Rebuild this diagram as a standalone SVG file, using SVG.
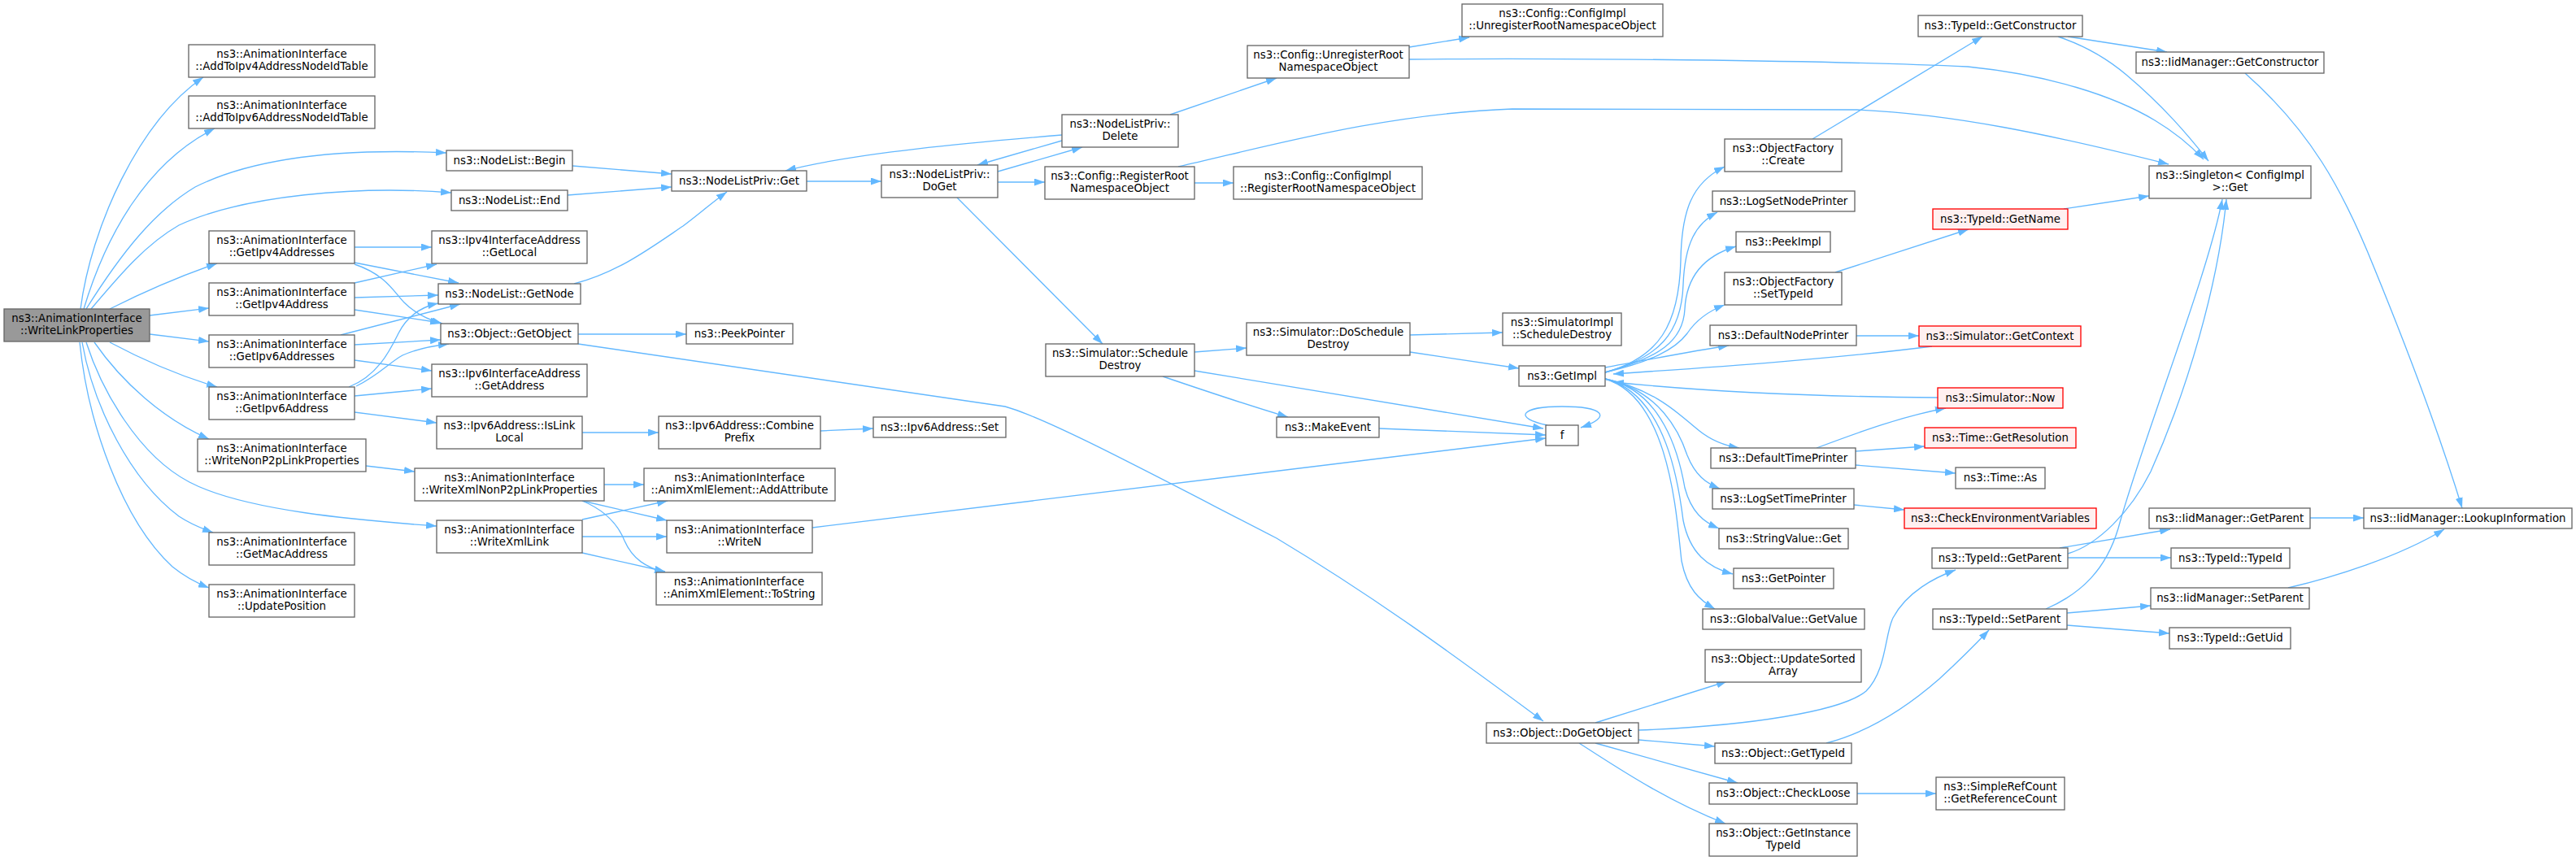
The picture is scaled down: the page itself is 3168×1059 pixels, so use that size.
<svg xmlns="http://www.w3.org/2000/svg" width="3168" height="1059" viewBox="0 0 3168 1059">
<style>
.node rect{fill:#ffffff;stroke:#666666;stroke-width:1.33}
.root rect{fill:#999999}
.red rect{fill:#fff0f0;stroke:#ff0000}
text{font-family:"DejaVu Sans","Liberation Sans",sans-serif;font-size:13.33px;text-anchor:middle;fill:#000000}
#edges path{fill:none;stroke:#63b8ff;stroke-width:1.33;marker-end:url(#a)}
</style>
<defs>
<marker id="a" viewBox="0 0 13 9" refX="13" refY="4.5" markerWidth="13" markerHeight="9" markerUnits="userSpaceOnUse" orient="auto"><path d="M0,0 L13,4.5 L0,9 z" fill="#63b8ff"/></marker>
</defs>
<rect width="3168" height="1059" fill="#ffffff"/>
<g id="edges">
<path d="M99,380 C112,280 170,150 250,95"/>
<path d="M103,380 C130,290 180,200 264,158"/>
<path d="M106,380 C150,310 190,260 240,230 C320,190 440,183 549,188"/>
<path d="M112,380 C150,335 180,300 220,277 C300,240 440,228 555,237"/>
<path d="M135,380 C175,360 220,340 267,324"/>
<path d="M184,388 L257,379"/>
<path d="M184,411 L257,420"/>
<path d="M135,421 C180,445 220,462 267,476"/>
<path d="M116,421 C150,470 200,515 257,540"/>
<path d="M106,421 C125,480 170,560 233,593 C300,628 440,640 537,647"/>
<path d="M101,421 C115,500 160,590 220,635 C235,645 248,650 262,655"/>
<path d="M98,421 C108,520 150,640 212,697 C228,710 242,717 257,723"/>
<path d="M436,304 L531,304"/>
<path d="M436,323 L564,348"/>
<path d="M436,325 C475,338 485,360 497,372 C510,385 525,393 544,398"/>
<path d="M436,348 L537,325"/>
<path d="M436,366 L539,363"/>
<path d="M436,381 L542,397"/>
<path d="M419,412 L566,374"/>
<path d="M436,424 L542,418"/>
<path d="M436,443 L531,456"/>
<path d="M429,476 C465,462 480,430 490,410 C500,390 515,378 539,373"/>
<path d="M438,475 C465,462 480,445 495,437 C515,428 535,425 552,423"/>
<path d="M436,487 L531,478"/>
<path d="M436,507 L537,520"/>
<path d="M450,573 L510,580"/>
<path d="M711,411 L844,411"/>
<path d="M711,423 L1236,500 C1290,515 1420,585 1570,662 C1700,740 1800,815 1898,887"/>
<path d="M704,204 L826,214"/>
<path d="M698,240 L826,230"/>
<path d="M706,349 C760,335 800,305 840,278 C860,263 877,248 894,236"/>
<path d="M992,223 L1084,223"/>
<path d="M1306,166 C1200,175 1050,188 966,210"/>
<path d="M1227,211 L1331,181"/>
<path d="M1306,173 L1202,203"/>
<path d="M1227,224 L1285,224"/>
<path d="M1177,243 L1356,423"/>
<path d="M1439,141 L1570,96"/>
<path d="M1469,225 L1517,225"/>
<path d="M1449,205 C1560,180 1700,140 1860,134 L2283,135 C2400,140 2520,165 2667,202"/>
<path d="M1733,58 L1807,46"/>
<path d="M1733,73 C1900,71 2250,74 2420,82 C2520,92 2600,118 2650,148 C2680,166 2697,182 2710,196"/>
<path d="M1469,433 L1533,428"/>
<path d="M1469,456 L1898,527"/>
<path d="M1430,463 C1480,480 1540,500 1584,513"/>
<path d="M1734,412 L1848,409"/>
<path d="M1734,433 L1868,453"/>
<path d="M1696,527 L1901,535"/>
<path d="M999,649 L1901,539"/>
<path d="M1903,523 C1860,514 1870,500 1921,500 C1970,500 1985,512 1944,526"/>
<path d="M1974,458 C2040,440 2065,400 2067,320 C2068,260 2080,225 2121,205"/>
<path d="M1974,458 C2040,440 2068,410 2070,350 C2072,300 2085,275 2112,261"/>
<path d="M1974,458 C2040,440 2070,420 2072,380 C2074,340 2095,315 2135,303"/>
<path d="M1974,458 C2030,445 2060,430 2075,410 C2085,395 2100,383 2121,375"/>
<path d="M1974,452 C2030,442 2080,432 2126,425"/>
<path d="M1974,466 C2040,480 2070,515 2090,530 C2105,542 2120,548 2139,551"/>
<path d="M1974,466 C2040,480 2065,530 2075,560 C2085,585 2098,594 2115,601"/>
<path d="M1974,466 C2045,480 2065,560 2072,600 C2080,630 2095,642 2114,650"/>
<path d="M1974,466 C2050,485 2065,600 2070,640 C2078,680 2100,698 2131,706"/>
<path d="M1974,466 C2055,490 2062,640 2068,690 C2075,725 2090,738 2109,749"/>
<path d="M2376,426 C2250,442 2100,452 1984,460"/>
<path d="M2383,489 C2250,488 2100,482 1984,470"/>
<path d="M2283,413 L2360,413"/>
<path d="M2234,551 C2290,530 2340,512 2393,502"/>
<path d="M2282,555 L2367,549"/>
<path d="M2282,572 L2405,582"/>
<path d="M2280,621 L2342,627"/>
<path d="M2229,171 L2438,45"/>
<path d="M2257,335 L2421,282"/>
<path d="M2538,257 L2643,241"/>
<path d="M2543,45 L2665,64"/>
<path d="M2531,45 C2570,58 2595,75 2615,92 C2660,130 2690,165 2716,198"/>
<path d="M2761,90 C2840,160 2880,230 2920,330 C2965,440 3005,550 3028,625"/>
<path d="M2841,637 L2907,637"/>
<path d="M2814,723 C2870,710 2950,685 3006,651"/>
<path d="M2533,674 L2669,651"/>
<path d="M2543,686 L2670,686"/>
<path d="M2543,681 C2580,670 2620,630 2645,580 C2690,480 2728,350 2738,245"/>
<path d="M2516,749 C2560,730 2590,700 2605,650 C2635,540 2715,340 2733,245"/>
<path d="M2542,754 L2645,745"/>
<path d="M2542,769 L2668,779"/>
<path d="M1962,889 L2124,838"/>
<path d="M2015,898 C2150,893 2265,875 2295,850 C2320,825 2318,780 2328,760 C2345,728 2380,710 2405,701"/>
<path d="M2015,910 L2109,918"/>
<path d="M1962,914 L2137,963"/>
<path d="M1942,914 C1990,945 2050,985 2122,1013"/>
<path d="M2246,914 C2300,900 2345,870 2385,835 C2410,812 2430,792 2446,775"/>
<path d="M2284,976 L2381,976"/>
<path d="M716,532 L810,532"/>
<path d="M1009,530 L1074,527"/>
<path d="M743,596 L792,596"/>
<path d="M716,616 L820,640"/>
<path d="M716,616 C745,628 760,645 768,665 C778,688 795,698 818,704"/>
<path d="M716,639 L821,616"/>
<path d="M716,660 L820,660"/>
<path d="M716,680 L818,703"/>
</g>
<g id="n0" class="node root"><rect x="5" y="380" width="179" height="40"/><text x="94.5" y="396">ns3::AnimationInterface</text><text x="94.5" y="411">::WriteLinkProperties</text></g>
<g id="n1" class="node"><rect x="232" y="55" width="229" height="40"/><text x="346.5" y="71">ns3::AnimationInterface</text><text x="346.5" y="86">::AddToIpv4AddressNodeIdTable</text></g>
<g id="n2" class="node"><rect x="232" y="118" width="229" height="40"/><text x="346.5" y="134">ns3::AnimationInterface</text><text x="346.5" y="149">::AddToIpv6AddressNodeIdTable</text></g>
<g id="n3" class="node"><rect x="257" y="284" width="179" height="40"/><text x="346.5" y="300">ns3::AnimationInterface</text><text x="346.5" y="315">::GetIpv4Addresses</text></g>
<g id="n4" class="node"><rect x="257" y="348" width="179" height="40"/><text x="346.5" y="364">ns3::AnimationInterface</text><text x="346.5" y="379">::GetIpv4Address</text></g>
<g id="n5" class="node"><rect x="257" y="412" width="179" height="40"/><text x="346.5" y="428">ns3::AnimationInterface</text><text x="346.5" y="443">::GetIpv6Addresses</text></g>
<g id="n6" class="node"><rect x="257" y="476" width="179" height="40"/><text x="346.5" y="492">ns3::AnimationInterface</text><text x="346.5" y="507">::GetIpv6Address</text></g>
<g id="n7" class="node"><rect x="243" y="540" width="207" height="40"/><text x="346.5" y="556">ns3::AnimationInterface</text><text x="346.5" y="571">::WriteNonP2pLinkProperties</text></g>
<g id="n8" class="node"><rect x="257" y="655" width="179" height="40"/><text x="346.5" y="671">ns3::AnimationInterface</text><text x="346.5" y="686">::GetMacAddress</text></g>
<g id="n9" class="node"><rect x="257" y="719" width="179" height="40"/><text x="346.5" y="735">ns3::AnimationInterface</text><text x="346.5" y="750">::UpdatePosition</text></g>
<g id="n11" class="node"><rect x="549" y="185" width="155" height="25"/><text x="626.5" y="202">ns3::NodeList::Begin</text></g>
<g id="n12" class="node"><rect x="555" y="234" width="143" height="25"/><text x="626.5" y="251">ns3::NodeList::End</text></g>
<g id="n13" class="node"><rect x="531" y="284" width="191" height="40"/><text x="626.5" y="300">ns3::Ipv4InterfaceAddress</text><text x="626.5" y="315">::GetLocal</text></g>
<g id="n14" class="node"><rect x="539" y="349" width="175" height="25"/><text x="626.5" y="366">ns3::NodeList::GetNode</text></g>
<g id="n15" class="node"><rect x="542" y="398" width="169" height="25"/><text x="626.5" y="415">ns3::Object::GetObject</text></g>
<g id="n16" class="node"><rect x="531" y="448" width="191" height="40"/><text x="626.5" y="464">ns3::Ipv6InterfaceAddress</text><text x="626.5" y="479">::GetAddress</text></g>
<g id="n17" class="node"><rect x="537" y="512" width="179" height="40"/><text x="626.5" y="528">ns3::Ipv6Address::IsLink</text><text x="626.5" y="543">Local</text></g>
<g id="n18" class="node"><rect x="510" y="576" width="233" height="40"/><text x="626.5" y="592">ns3::AnimationInterface</text><text x="626.5" y="607">::WriteXmlNonP2pLinkProperties</text></g>
<g id="n19" class="node"><rect x="537" y="640" width="179" height="40"/><text x="626.5" y="656">ns3::AnimationInterface</text><text x="626.5" y="671">::WriteXmlLink</text></g>
<g id="n20" class="node"><rect x="826" y="210" width="166" height="25"/><text x="909" y="227">ns3::NodeListPriv::Get</text></g>
<g id="n21" class="node"><rect x="844" y="398" width="131" height="25"/><text x="909.5" y="415">ns3::PeekPointer</text></g>
<g id="n22" class="node"><rect x="810" y="512" width="199" height="40"/><text x="909.5" y="528">ns3::Ipv6Address::Combine</text><text x="909.5" y="543">Prefix</text></g>
<g id="n23" class="node"><rect x="792" y="576" width="235" height="40"/><text x="909.5" y="592">ns3::AnimationInterface</text><text x="909.5" y="607">::AnimXmlElement::AddAttribute</text></g>
<g id="n24" class="node"><rect x="820" y="640" width="179" height="40"/><text x="909.5" y="656">ns3::AnimationInterface</text><text x="909.5" y="671">::WriteN</text></g>
<g id="n25" class="node"><rect x="807" y="704" width="204" height="40"/><text x="909" y="720">ns3::AnimationInterface</text><text x="909" y="735">::AnimXmlElement::ToString</text></g>
<g id="n26" class="node"><rect x="1084" y="203" width="143" height="40"/><text x="1155.5" y="219">ns3::NodeListPriv::</text><text x="1155.5" y="234">DoGet</text></g>
<g id="n27" class="node"><rect x="1074" y="513" width="163" height="25"/><text x="1155.5" y="530">ns3::Ipv6Address::Set</text></g>
<g id="n28" class="node"><rect x="1306" y="141" width="143" height="40"/><text x="1377.5" y="157">ns3::NodeListPriv::</text><text x="1377.5" y="172">Delete</text></g>
<g id="n29" class="node"><rect x="1285" y="205" width="184" height="40"/><text x="1377" y="221">ns3::Config::RegisterRoot</text><text x="1377" y="236">NamespaceObject</text></g>
<g id="n30" class="node"><rect x="1286" y="423" width="183" height="40"/><text x="1377.5" y="439">ns3::Simulator::Schedule</text><text x="1377.5" y="454">Destroy</text></g>
<g id="n31" class="node"><rect x="1534" y="56" width="199" height="40"/><text x="1633.5" y="72">ns3::Config::UnregisterRoot</text><text x="1633.5" y="87">NamespaceObject</text></g>
<g id="n32" class="node"><rect x="1517" y="205" width="232" height="40"/><text x="1633" y="221">ns3::Config::ConfigImpl</text><text x="1633" y="236">::RegisterRootNamespaceObject</text></g>
<g id="n33" class="node"><rect x="1533" y="397" width="201" height="40"/><text x="1633.5" y="413">ns3::Simulator::DoSchedule</text><text x="1633.5" y="428">Destroy</text></g>
<g id="n34" class="node"><rect x="1570" y="513" width="126" height="25"/><text x="1633" y="530">ns3::MakeEvent</text></g>
<g id="n35" class="node"><rect x="1828" y="889" width="187" height="25"/><text x="1921.5" y="906">ns3::Object::DoGetObject</text></g>
<g id="n36" class="node"><rect x="1798" y="5" width="247" height="40"/><text x="1921.5" y="21">ns3::Config::ConfigImpl</text><text x="1921.5" y="36">::UnregisterRootNamespaceObject</text></g>
<g id="n37" class="node"><rect x="1848" y="385" width="146" height="40"/><text x="1921" y="401">ns3::SimulatorImpl</text><text x="1921" y="416">::ScheduleDestroy</text></g>
<g id="n38" class="node"><rect x="1868" y="450" width="106" height="25"/><text x="1921" y="467">ns3::GetImpl</text></g>
<g id="n39" class="node"><rect x="1901" y="523" width="40" height="25"/><text x="1921" y="540">f</text></g>
<g id="n40" class="node"><rect x="2121" y="171" width="144" height="40"/><text x="2193" y="187">ns3::ObjectFactory</text><text x="2193" y="202">::Create</text></g>
<g id="n41" class="node"><rect x="2106" y="235" width="175" height="25"/><text x="2193.5" y="252">ns3::LogSetNodePrinter</text></g>
<g id="n42" class="node"><rect x="2135" y="285" width="116" height="25"/><text x="2193" y="302">ns3::PeekImpl</text></g>
<g id="n43" class="node"><rect x="2121" y="335" width="144" height="40"/><text x="2193" y="351">ns3::ObjectFactory</text><text x="2193" y="366">::SetTypeId</text></g>
<g id="n44" class="node"><rect x="2103" y="400" width="180" height="25"/><text x="2193" y="417">ns3::DefaultNodePrinter</text></g>
<g id="n45" class="node"><rect x="2104" y="551" width="178" height="25"/><text x="2193" y="568">ns3::DefaultTimePrinter</text></g>
<g id="n46" class="node"><rect x="2106" y="601" width="174" height="25"/><text x="2193" y="618">ns3::LogSetTimePrinter</text></g>
<g id="n47" class="node"><rect x="2114" y="650" width="159" height="25"/><text x="2193.5" y="667">ns3::StringValue::Get</text></g>
<g id="n48" class="node"><rect x="2132" y="699" width="123" height="25"/><text x="2193.5" y="716">ns3::GetPointer</text></g>
<g id="n49" class="node"><rect x="2094" y="749" width="199" height="25"/><text x="2193.5" y="766">ns3::GlobalValue::GetValue</text></g>
<g id="n50" class="node"><rect x="2097" y="799" width="192" height="40"/><text x="2193" y="815">ns3::Object::UpdateSorted</text><text x="2193" y="830">Array</text></g>
<g id="n51" class="node"><rect x="2109" y="914" width="168" height="25"/><text x="2193" y="931">ns3::Object::GetTypeId</text></g>
<g id="n52" class="node"><rect x="2102" y="963" width="182" height="26"/><text x="2193" y="980">ns3::Object::CheckLoose</text></g>
<g id="n53" class="node"><rect x="2102" y="1013" width="182" height="40"/><text x="2193" y="1029">ns3::Object::GetInstance</text><text x="2193" y="1044">TypeId</text></g>
<g id="n54" class="node"><rect x="2359" y="19" width="202" height="26"/><text x="2460" y="36">ns3::TypeId::GetConstructor</text></g>
<g id="n55" class="node red"><rect x="2377" y="257" width="166" height="25"/><text x="2460" y="274">ns3::TypeId::GetName</text></g>
<g id="n56" class="node red"><rect x="2360" y="401" width="199" height="25"/><text x="2459.5" y="418">ns3::Simulator::GetContext</text></g>
<g id="n57" class="node red"><rect x="2383" y="477" width="154" height="25"/><text x="2460" y="494">ns3::Simulator::Now</text></g>
<g id="n58" class="node red"><rect x="2367" y="526" width="186" height="25"/><text x="2460" y="543">ns3::Time::GetResolution</text></g>
<g id="n59" class="node"><rect x="2405" y="575" width="110" height="26"/><text x="2460" y="592">ns3::Time::As</text></g>
<g id="n60" class="node red"><rect x="2342" y="625" width="236" height="25"/><text x="2460" y="642">ns3::CheckEnvironmentVariables</text></g>
<g id="n61" class="node"><rect x="2376" y="674" width="167" height="25"/><text x="2459.5" y="691">ns3::TypeId::GetParent</text></g>
<g id="n62" class="node"><rect x="2377" y="749" width="165" height="25"/><text x="2459.5" y="766">ns3::TypeId::SetParent</text></g>
<g id="n63" class="node"><rect x="2381" y="956" width="158" height="40"/><text x="2460" y="972">ns3::SimpleRefCount</text><text x="2460" y="987">::GetReferenceCount</text></g>
<g id="n64" class="node"><rect x="2627" y="64" width="231" height="26"/><text x="2742.5" y="81">ns3::IidManager::GetConstructor</text></g>
<g id="n65" class="node"><rect x="2643" y="204" width="199" height="40"/><text x="2742.5" y="220">ns3::Singleton&lt; ConfigImpl</text><text x="2742.5" y="235">&gt;::Get</text></g>
<g id="n66" class="node"><rect x="2643" y="625" width="198" height="25"/><text x="2742" y="642">ns3::IidManager::GetParent</text></g>
<g id="n67" class="node"><rect x="2670" y="674" width="146" height="25"/><text x="2743" y="691">ns3::TypeId::TypeId</text></g>
<g id="n68" class="node"><rect x="2645" y="723" width="195" height="26"/><text x="2742.5" y="740">ns3::IidManager::SetParent</text></g>
<g id="n69" class="node"><rect x="2668" y="772" width="149" height="26"/><text x="2742.5" y="789">ns3::TypeId::GetUid</text></g>
<g id="n70" class="node"><rect x="2907" y="625" width="256" height="25"/><text x="3035" y="642">ns3::IidManager::LookupInformation</text></g>
</svg>
